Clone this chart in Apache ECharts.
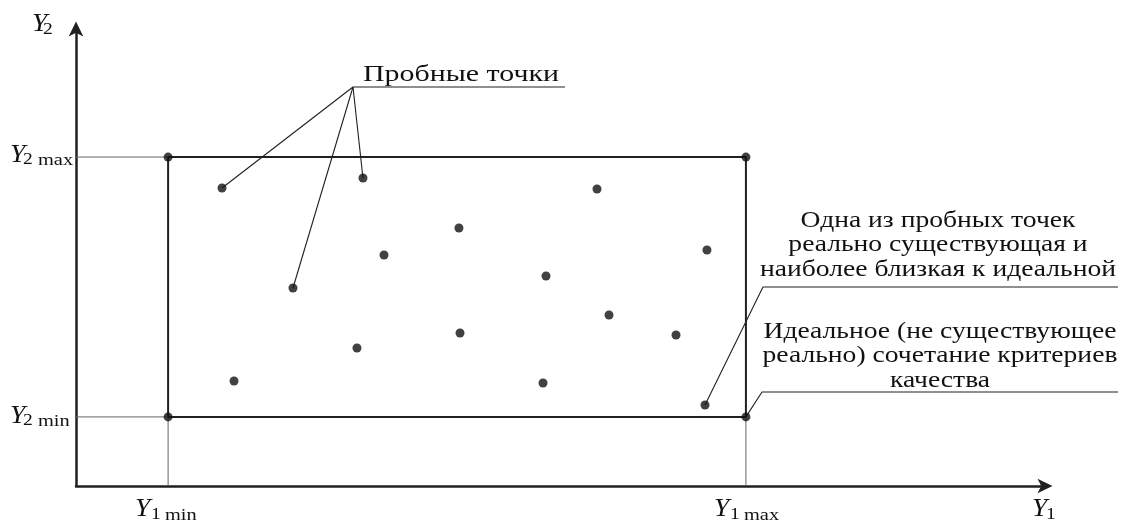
<!DOCTYPE html>
<html><head><meta charset="utf-8">
<script src="https://cdn.jsdelivr.net/npm/echarts@6/dist/echarts.min.js"></script>
<style>html,body{margin:0;padding:0;background:#fff}#c{width:1125px;height:520px}</style>
</head><body><div id="c"></div>
<script>
// Criteria bounds (axis units 0..100)
const Y1_MIN = 9.5, Y1_MAX = 69.1;
const Y2_MIN = 15.1, Y2_MAX = 71.9;
// Trial points
const trialY1 = [15.06, 29.60, 53.74, 39.50, 31.77, 65.08, 48.48, 22.38, 54.98, 39.61, 61.89, 28.98, 16.30, 48.17, 64.88];
const trialY2 = [65.14, 67.32, 64.92, 56.39, 50.49, 51.58, 45.90, 43.28, 37.38, 33.44, 33.01, 30.16, 22.95, 22.51, 17.70];
// Callouts
const calloutTrialHub = [28.57, 87.21];
const calloutTrialEnd = 50.44;
const calloutTrialTargets = [0, 7, 1]; // indices of trial points pointed at
const calloutBest = {point: 14, elbow: [70.86, 43.50], end: 107.48};
const calloutIdeal = {elbow: [70.76, 20.55], end: 107.48};
const texts = {
  trial: 'Пробные точки',
  best: ['Одна из пробных точек', 'реально существующая и', 'наиболее близкая к идеальной'],
  ideal: ['Идеальное (не существующее', 'реально) сочетание критериев', 'качества']
};

const INK = '#231f20';
const SERIF = '"Liberation Serif", "Times New Roman", serif';
const pts = trialY1.map((x, i) => [x, trialY2[i]]);
const corners = [[Y1_MIN, Y2_MAX], [Y1_MAX, Y2_MAX], [Y1_MIN, Y2_MIN], [Y1_MAX, Y2_MIN]];

function seg(data, width, color, wide) {
  return {type: 'line', data: data, showSymbol: false, symbol: 'none', silent: true,
    xAxisIndex: wide ? 1 : 0, yAxisIndex: wide ? 1 : 0,
    lineStyle: {width: width, color: color || INK}, z: 2, animation: false};
}
const series = [];
// rectangle
series.push(seg([[Y1_MIN, Y2_MIN], [Y1_MIN, Y2_MAX], [Y1_MAX, Y2_MAX], [Y1_MAX, Y2_MIN], [Y1_MIN, Y2_MIN]], 2));
// guide lines
series.push(seg([[0, Y2_MAX], [Y1_MIN, Y2_MAX]], 1, '#666'));
series.push(seg([[0, Y2_MIN], [Y1_MIN, Y2_MIN]], 1, '#666'));
series.push(seg([[Y1_MIN, 0], [Y1_MIN, Y2_MIN]], 1, '#666'));
series.push(seg([[Y1_MAX, 0], [Y1_MAX, Y2_MIN]], 1, '#666'));
// trial callout
calloutTrialTargets.forEach(i => series.push(seg([calloutTrialHub, pts[i]], 1.1, INK, true)));
series.push(seg([calloutTrialHub, [calloutTrialEnd, calloutTrialHub[1]]], 1.1, INK, true));
// best callout
series.push(seg([pts[calloutBest.point], calloutBest.elbow, [calloutBest.end, calloutBest.elbow[1]]], 1.1, INK, true));
// ideal callout
series.push(seg([[Y1_MAX, Y2_MIN], calloutIdeal.elbow, [calloutIdeal.end, calloutIdeal.elbow[1]]], 1.1, INK, true));
// points
series.push({type: 'scatter', data: pts.concat(corners), symbolSize: 9, itemStyle: {color: '#111'}, z: 5, silent: true, animation: false});

function t(x, y, text, size, opts) {
  opts = opts || {};
  return {type: 'text', x: x, y: y, silent: true, z: 10, scaleX: opts.sx || 1,
    style: {text: text, fill: '#111', fontFamily: SERIF, fontSize: size,
      fontStyle: opts.italic ? 'italic' : 'normal', align: opts.align || 'left', verticalAlign: 'middle',
      lineHeight: opts.lh || undefined}};
}
const Yo = {italic: true, sx: 1.1}, So = {sx: 1.15}, Wo = {sx: 1.2};
const graphics = [
  // Y2 axis name
  t(32, 24, 'Y', 25, Yo), t(43, 30, '2', 17, So),
  // Y2max / Y2min
  t(10, 155, 'Y', 25, Yo), t(23, 160, '2', 17, So), t(38, 161, 'max', 17, Wo),
  t(10, 416, 'Y', 25, Yo), t(23, 421, '2', 17, So), t(38, 422, 'min', 17, Wo),
  // Y1min / Y1max / Y1
  t(135, 509, 'Y', 25, Yo), t(151, 515, '1', 17, So), t(165, 516, 'min', 17, Wo),
  t(714, 509, 'Y', 25, Yo), t(730, 515, '1', 17, So), t(744, 516, 'max', 17, Wo),
  t(1032, 509, 'Y', 25, Yo), t(1046, 515, '1', 17, So),
  // callout texts
  t(461, 75, texts.trial, 23, {align: 'center', sx: 1.3}),
  t(938, 245, texts.best.join('\n'), 23, {align: 'center', lh: 24.5, sx: 1.2}),
  t(940, 356, texts.ideal.join('\n'), 23, {align: 'center', lh: 24.5, sx: 1.2})
];

const axisCommon = {
  type: 'value', min: 0, max: 100, gridIndex: 0,
  axisLine: {show: true, onZero: false, symbol: ['none', 'arrow'], symbolSize: [11, 15], symbolOffset: [0, 7],
    lineStyle: {color: INK, width: 2.5}},
  axisTick: {show: false}, axisLabel: {show: false}, splitLine: {show: false}
};
const hidden = {type: 'value', gridIndex: 1, min: 0, show: false, splitLine: {show: false}};
const chart = echarts.init(document.getElementById('c'), null, {renderer: 'canvas'});
chart.setOption({
  animation: false,
  backgroundColor: '#fff',
  grid: [
    {left: 76, right: 79.5, top: 28.5, bottom: 34},
    {left: 76, right: 7, top: 28.5, bottom: 34}
  ],
  xAxis: [axisCommon, Object.assign({}, hidden, {max: 107.48})],
  yAxis: [axisCommon, Object.assign({}, hidden, {max: 100})],
  series: series,
  graphic: graphics
});
</script></body></html>
